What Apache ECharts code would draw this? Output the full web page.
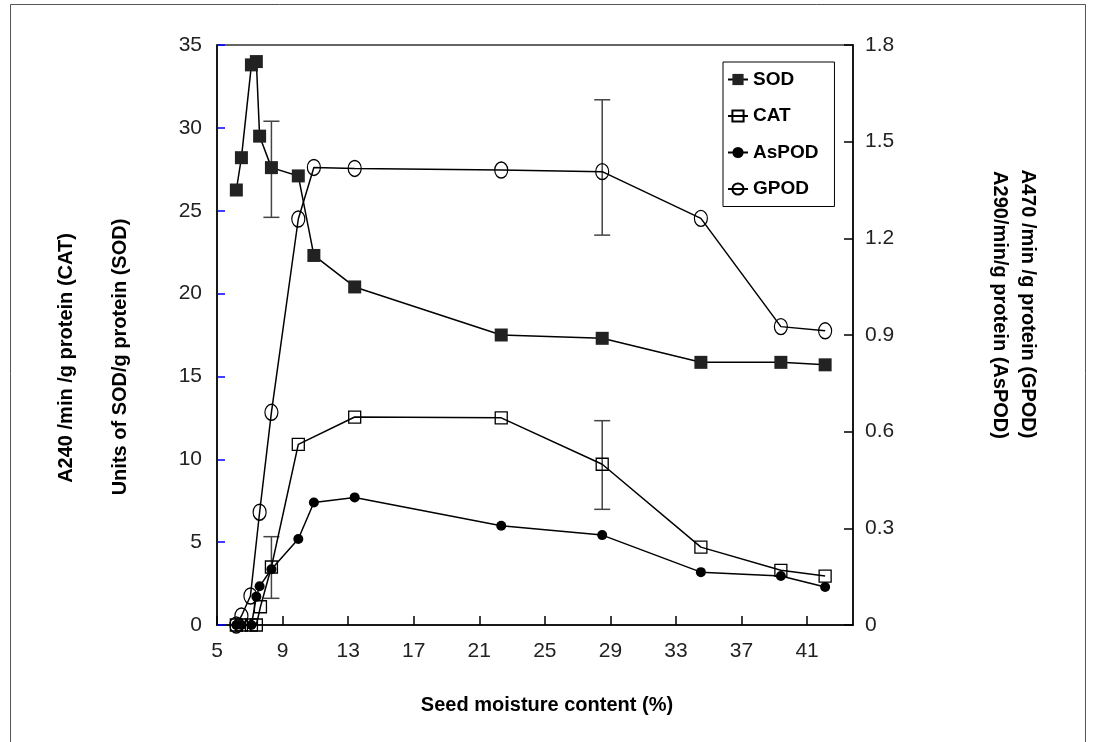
<!DOCTYPE html>
<html>
<head>
<meta charset="utf-8">
<script src="https://cdn.jsdelivr.net/npm/echarts@6/dist/echarts.min.js"></script>
<style>
  html, body { margin: 0; padding: 0; background: #fff; }
  #chart { width: 1096px; height: 742px; }
</style>
</head>
<body>
<div id="chart"></div>
<script>
// seed moisture content (%) and activity of each enzyme
const sodX = [6.18, 6.49, 7.10, 7.40, 7.60, 8.32, 9.96, 10.91, 13.4, 22.34, 28.5, 34.52, 39.4, 42.1]
const sodY = [26.25, 28.2, 33.8, 34.0, 29.5, 27.6, 27.1, 22.3, 20.4, 17.5, 17.3, 15.85, 15.85, 15.7]
const catX = [6.18, 6.49, 7.10, 7.40, 7.65, 8.32, 9.96, 13.4, 22.34, 28.5, 34.52, 39.4, 42.1]
const catY = [0, 0, 0, 0, 1.1, 3.5, 10.9, 12.55, 12.5, 9.7, 4.7, 3.3, 2.95]
const asX = [6.18, 6.49, 7.10, 7.40, 7.60, 8.32, 9.96, 10.91, 13.4, 22.34, 28.5, 34.52, 39.4, 42.1]
const asY = [0, 0, 0, 0.088, 0.12, 0.173, 0.267, 0.38, 0.396, 0.308, 0.279, 0.164, 0.152, 0.118]
const gpX = [6.18, 6.49, 7.04, 7.60, 8.32, 9.96, 10.91, 13.4, 22.34, 28.5, 34.52, 39.4, 42.1]
const gpY = [0, 0.028, 0.09, 0.35, 0.66, 1.26, 1.42, 1.417, 1.412, 1.407, 1.262, 0.926, 0.913]

// error bars: left axis (SOD, CAT) and right axis (GPOD)
const errLeftX = [8.32, 8.32, 28.5]
const errLeftLow = [24.6, 1.61, 6.98]
const errLeftHigh = [30.4, 5.33, 12.33]
const errRightX = [28.5]
const errRightLow = [1.21]
const errRightHigh = [1.63]

const xTicks = [5, 9, 13, 17, 21, 25, 29, 33, 37, 41]

const FONT = 'Liberation Sans, Arial, sans-serif'
const zip = (xs, ys) => xs.map((x, i) => [x, ys[i]])

const errBar = (xs, lo, hi, axis) => ({
  type: 'custom',
  yAxisIndex: axis,
  silent: true,
  z: 1,
  data: xs.map((x, i) => [x, lo[i], hi[i]]),
  renderItem: (params, api) => {
    const top = api.coord([api.value(0), api.value(2)])
    const bot = api.coord([api.value(0), api.value(1)])
    const cap = 8
    const st = { stroke: '#444', lineWidth: 1.5 }
    return {
      type: 'group',
      children: [
        { type: 'line', shape: { x1: top[0], y1: top[1], x2: bot[0], y2: bot[1] }, style: st },
        { type: 'line', shape: { x1: top[0] - cap, y1: top[1], x2: top[0] + cap, y2: top[1] }, style: st },
        { type: 'line', shape: { x1: bot[0] - cap, y1: bot[1], x2: bot[0] + cap, y2: bot[1] }, style: st }
      ]
    }
  }
})

const lineStyle = { color: '#000', width: 1.5 }

const option = {
  animation: false,
  backgroundColor: '#fff',
  grid: { left: 217, right: 243, top: 45, bottom: 117, show: true, borderColor: '#333', borderWidth: 1.5 },
  legend: {
    orient: 'vertical',
    left: 723,
    top: 62,
    padding: [8, 16, 8, 4],
    itemGap: 17.5,
    itemWidth: 20,
    itemHeight: 14,
    borderColor: '#000',
    borderWidth: 1,
    backgroundColor: '#fff',
    textStyle: { color: '#000', fontWeight: 'bold', fontSize: 19, fontFamily: FONT },
    data: ['SOD', 'CAT', 'AsPOD', 'GPOD']
  },
  xAxis: {
    type: 'value',
    min: 5,
    max: 43.8,
    interval: 4,
    axisLine: { lineStyle: { color: '#000', width: 1.5 } },
    axisTick: { inside: true, length: 9, lineStyle: { color: '#000', width: 1.5 } },
    axisLabel: {
      showMaxLabel: false,
      margin: 16,
      fontSize: 21,
      color: '#222',
      fontFamily: FONT,
      formatter: v => xTicks.includes(v) ? String(v) : ''
    },
    splitLine: { show: false }
  },
  yAxis: [
    {
      type: 'value',
      position: 'left',
      min: 0,
      max: 35,
      interval: 5,
      axisLine: { show: true, lineStyle: { color: '#000', width: 1.5 } },
      axisTick: { show: true, inside: true, length: 8, lineStyle: { color: '#0000ff', width: 1.5 } },
      axisLabel: { margin: 15, fontSize: 21, color: '#222', fontFamily: FONT },
      splitLine: { show: false }
    },
    {
      type: 'value',
      position: 'right',
      min: 0,
      max: 1.8,
      interval: 0.3,
      axisLine: { show: true, lineStyle: { color: '#000', width: 1.5 } },
      axisTick: { show: true, inside: true, length: 9, lineStyle: { color: '#000', width: 1.5 } },
      axisLabel: { margin: 12, fontSize: 21, color: '#222', fontFamily: FONT },
      splitLine: { show: false }
    }
  ],
  series: [
    errBar(errLeftX, errLeftLow, errLeftHigh, 0),
    errBar(errRightX, errRightLow, errRightHigh, 1),
    {
      name: 'SOD', type: 'line', yAxisIndex: 0, z: 3,
      symbol: 'rect', symbolSize: 13,
      lineStyle: lineStyle,
      itemStyle: { color: '#222' },
      data: zip(sodX, sodY)
    },
    {
      name: 'CAT', type: 'line', yAxisIndex: 0, z: 3,
      symbol: 'rect', symbolSize: 12,
      lineStyle: lineStyle,
      itemStyle: { color: 'rgba(255,255,255,0)', borderColor: '#000', borderWidth: 1.3 },
      data: zip(catX, catY)
    },
    {
      name: 'AsPOD', type: 'line', yAxisIndex: 1, z: 3,
      symbol: 'circle', symbolSize: 10,
      lineStyle: lineStyle,
      itemStyle: { color: '#000' },
      data: zip(asX, asY)
    },
    {
      name: 'GPOD', type: 'line', yAxisIndex: 1, z: 3,
      symbol: 'circle', symbolSize: [13, 16],
      lineStyle: lineStyle,
      itemStyle: { color: 'rgba(255,255,255,0)', borderColor: '#000', borderWidth: 1.3 },
      data: zip(gpX, gpY)
    }
  ],
  graphic: [
    { type: 'rect', silent: true, shape: { x: 10.5, y: 4.5, width: 1075, height: 800 },
      style: { fill: 'none', stroke: '#555', lineWidth: 1 } },
    { type: 'text', x: 66, y: 358, rotation: Math.PI / 2,
      style: { text: 'A240 /min /g protein (CAT)', align: 'center', verticalAlign: 'middle',
        font: 'bold 20px ' + FONT, fill: '#000' } },
    { type: 'text', x: 120, y: 357, rotation: Math.PI / 2,
      style: { text: 'Units of SOD/g protein (SOD)', align: 'center', verticalAlign: 'middle',
        font: 'bold 20px ' + FONT, fill: '#000' } },
    { type: 'text', x: 1000, y: 305, rotation: -Math.PI / 2,
      style: { text: 'A290/min/g protein (AsPOD)', align: 'center', verticalAlign: 'middle',
        font: 'bold 20px ' + FONT, fill: '#000' } },
    { type: 'text', x: 1028, y: 304, rotation: -Math.PI / 2,
      style: { text: 'A470 /min /g protein (GPOD)', align: 'center', verticalAlign: 'middle',
        font: 'bold 20px ' + FONT, fill: '#000' } },
    { type: 'text', x: 547, y: 705,
      style: { text: 'Seed moisture content (%)', align: 'center', verticalAlign: 'middle',
        font: 'bold 20px ' + FONT, fill: '#000' } }
  ]
}

const chart = echarts.init(document.getElementById('chart'))
chart.setOption(option)
</script>
</body>
</html>
